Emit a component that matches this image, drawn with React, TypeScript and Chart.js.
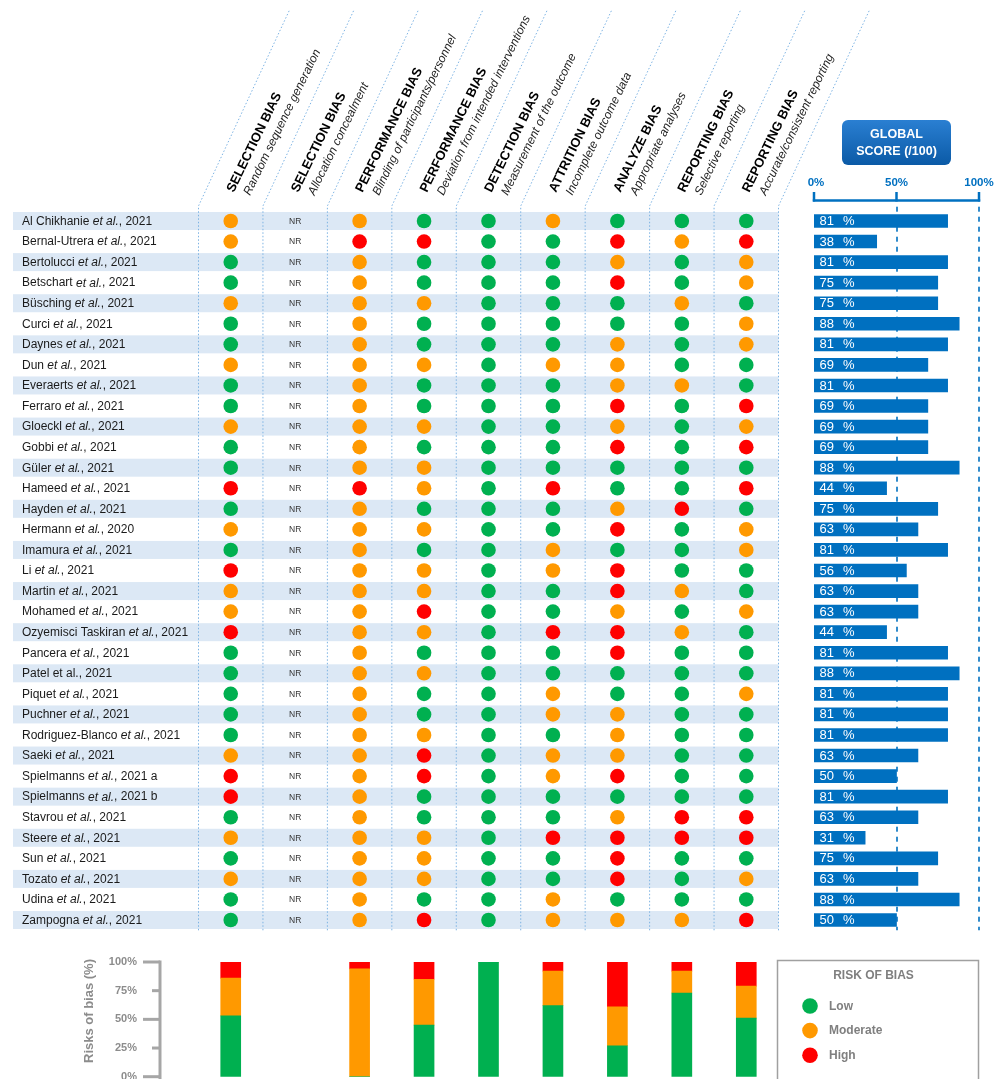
import React, { useEffect, useRef } from "react";
import { Chart, registerables } from "chart.js";

Chart.register(...registerables);

const W = 1004;
const H = 1079;
const FONT = '"Liberation Sans", Arial, Helvetica, sans-serif';

// ---- DATA ----
const studies = [
  "Al Chikhanie *et al.*, 2021",
  "Bernal-Utrera *et al.*, 2021",
  "Bertolucci *et al.*, 2021",
  "Betschart *et al.*, 2021",
  "Büsching *et al.*, 2021",
  "Curci *et al.*, 2021",
  "Daynes *et al.*, 2021",
  "Dun *et al.*, 2021",
  "Everaerts *et al.*, 2021",
  "Ferraro *et al.*, 2021",
  "Gloeckl *et al.*, 2021",
  "Gobbi *et al.*, 2021",
  "Güler *et al.*, 2021",
  "Hameed *et al.*, 2021",
  "Hayden *et al.*, 2021",
  "Hermann *et al.*, 2020",
  "Imamura *et al.*, 2021",
  "Li *et al.*, 2021",
  "Martin *et al.*, 2021",
  "Mohamed *et al.*, 2021",
  "Ozyemisci Taskiran *et al.*, 2021",
  "Pancera *et al.*, 2021",
  "Patel et al., 2021",
  "Piquet *et al.*, 2021",
  "Puchner *et al.*, 2021",
  "Rodriguez-Blanco *et al.*, 2021",
  "Saeki *et al.*, 2021",
  "Spielmanns *et al.*, 2021 a",
  "Spielmanns *et al.*, 2021 b",
  "Stavrou *et al.*, 2021",
  "Steere *et al.*, 2021",
  "Sun *et al.*, 2021",
  "Tozato *et al.*, 2021",
  "Udina *et al.*, 2021",
  "Zampogna *et al.*, 2021",
];

// G = low, O = moderate, R = high, - = not reported (NR)
const ratings = [
  "O-OGGOGGG",
  "O-RRGGROR",
  "G-OGGGOGO",
  "G-OGGGRGO",
  "O-OOGGGOG",
  "G-OGGGGGO",
  "G-OGGGOGO",
  "O-OOGOOGG",
  "G-OGGGOOG",
  "G-OGGGRGR",
  "O-OOGGOGO",
  "G-OGGGRGR",
  "G-OOGGGGG",
  "R-ROGRGGR",
  "G-OGGGORG",
  "O-OOGGRGO",
  "G-OGGOGGO",
  "R-OOGORGG",
  "O-OOGGROG",
  "O-ORGGOGO",
  "R-OOGRROG",
  "G-OGGGRGG",
  "G-OOGGGGG",
  "G-OGGOGGO",
  "G-OGGOOGG",
  "G-OOGGOGG",
  "O-ORGOOGG",
  "R-ORGORGG",
  "R-OGGGGGG",
  "G-OGGGORR",
  "O-OOGRRRR",
  "G-OOGGRGG",
  "O-OOGGRGO",
  "G-OGGOGGG",
  "G-ORGOOOR",
];

const scores = [81, 38, 81, 75, 75, 88, 81, 69, 81, 69, 69, 69, 88, 44, 75, 63, 81, 56, 63, 63, 44, 81, 88, 81, 81, 81, 63, 50, 81, 63, 31, 75, 63, 88, 50];

const domainTitles = [
  "SELECTION BIAS",
  "SELECTION BIAS",
  "PERFORMANCE BIAS",
  "PERFORMANCE BIAS",
  "DETECTION BIAS",
  "ATTRITION BIAS",
  "ANALYZE BIAS",
  "REPORTING BIAS",
  "REPORTING BIAS",
];
const domainSubtitles = [
  "Random sequence generation",
  "Allocation concealment",
  "Blinding of participants/personnel",
  "Deviation from intended interventions",
  "Measurement of the outcome",
  "Incomplete outcome data",
  "Appropriate analyses",
  "Selective reporting",
  "Accurate/consistent reporting",
];

const levelCodes = ["G", "O", "R"];
const levelLabels = ["Low", "Moderate", "High"];
const levelColors = ["#00B050", "#FF9900", "#FF0000"];

// Summary stacked bars (% of studies)
const lowPct = [53, null, 0, 45, 100, 62, 27, 73, 51];
const moderatePct = [33, null, 94, 40, 0, 30, 34, 19, 28];
const highPct = [14, null, 6, 15, 0, 8, 39, 8, 21];

const scoreTicks = [0, 50, 100];
const riskTicks = [0, 25, 50, 75, 100];

const BLUE = "#0070C0";
const BAND = "#dce8f5";
const DOT_LINE = "#7db3e3";

function plain(s: string) {
  return s.split("*").join("");
}

function drawRich(ctx: CanvasRenderingContext2D, text: string, x: number, y: number, size: number) {
  const parts = text.split("*");
  let cx = x;
  parts.forEach((p, idx) => {
    ctx.font = `${idx % 2 ? "italic " : ""}${size}px ${FONT}`;
    ctx.fillText(p, cx, y);
    cx += ctx.measureText(p).width;
  });
}

export default function App() {
  const matrixRef = useRef<HTMLCanvasElement>(null);
  const scoreRef = useRef<HTMLCanvasElement>(null);
  const riskRef = useRef<HTMLCanvasElement>(null);

  useEffect(() => {
    const charts: Chart[] = [];

    // ---------- Matrix of risk-of-bias dots ----------
    const matrixDecor = {
      id: "matrixDecor",
      beforeDatasetsDraw(chart: any) {
        const { ctx, chartArea, scales } = chart;
        const xs = scales.x;
        const ys = scales.y;
        ctx.save();
        // alternating bands
        ctx.fillStyle = BAND;
        studies.forEach((_, i) => {
          if (i % 2 === 0) {
            const y = ys.getPixelForValue(i + 0.5);
            ctx.fillRect(13, y - 9, chartArea.right - 13, 18);
          }
        });
        // dotted column separators (vertical then slanted into header)
        ctx.strokeStyle = DOT_LINE;
        ctx.lineWidth = 1;
        ctx.setLineDash([1.5, 2]);
        for (let k = 0; k <= domainTitles.length; k++) {
          const x = xs.getPixelForValue(k);
          ctx.beginPath();
          ctx.moveTo(x, chartArea.bottom);
          ctx.lineTo(x, 206);
          ctx.lineTo(x + 91, 10);
          ctx.stroke();
        }
        ctx.setLineDash([]);
        // study names
        ctx.fillStyle = "#1a1a1a";
        ctx.textBaseline = "middle";
        ctx.textAlign = "left";
        studies.forEach((s, i) => drawRich(ctx, s, 22, ys.getPixelForValue(i + 0.5) + 0.5, 12));
        // NR labels
        ctx.font = `8.5px ${FONT}`;
        ctx.textAlign = "center";
        ctx.fillStyle = "#333";
        ratings.forEach((r, i) => {
          for (let k = 0; k < r.length; k++) {
            if (r[k] === "-") {
              ctx.fillText("NR", xs.getPixelForValue(k + 0.5), ys.getPixelForValue(i + 0.5) + 0.5);
            }
          }
        });
        // rotated headers
        const ang = (-64 * Math.PI) / 180;
        domainTitles.forEach((t, k) => {
          const cx = xs.getPixelForValue(k + 0.5);
          ctx.save();
          ctx.translate(cx + 3, 193);
          ctx.rotate(ang);
          ctx.textAlign = "left";
          ctx.textBaseline = "alphabetic";
          ctx.fillStyle = "#000";
          ctx.font = `bold 13px ${FONT}`;
          ctx.fillText(t, 0, 0);
          ctx.fillStyle = "#222";
          ctx.font = `italic 12px ${FONT}`;
          ctx.fillText(domainSubtitles[k], 4.5, 16);
          ctx.restore();
        });
        ctx.restore();
      },
    };

    const matrixDatasets = levelCodes.map((code, li) => {
      const pts: { x: number; y: number }[] = [];
      ratings.forEach((r, i) => {
        for (let k = 0; k < r.length; k++) {
          if (r[k] === code) pts.push({ x: k + 0.5, y: i + 0.5 });
        }
      });
      return {
        label: levelLabels[li],
        data: pts,
        backgroundColor: levelColors[li],
        borderWidth: 0,
        pointRadius: 7.3,
        pointHoverRadius: 7.3,
      };
    });

    if (matrixRef.current) {
      charts.push(
        new Chart(matrixRef.current, {
          type: "scatter",
          data: { datasets: matrixDatasets as any },
          options: {
            animation: false,
            responsive: false,
            events: [],
            layout: { padding: { left: 198.5, right: W - 778.5, top: 210.7, bottom: H - 930.3 } },
            plugins: { legend: { display: false }, tooltip: { enabled: false } },
            scales: {
              x: { type: "linear", min: 0, max: domainTitles.length, display: false },
              y: { type: "linear", min: 0, max: studies.length, reverse: true, display: false },
            },
          },
          plugins: [matrixDecor],
        })
      );
    }

    // ---------- Global score bars ----------
    const scoreDecor = {
      id: "scoreDecor",
      beforeDatasetsDraw(chart: any) {
        const { ctx, chartArea, scales } = chart;
        const x = scales.x;
        ctx.save();
        ctx.strokeStyle = BLUE;
        ctx.lineWidth = 1.6;
        ctx.setLineDash([5, 5]);
        [50, 100].forEach((v) => {
          const px = Math.round(x.getPixelForValue(v));
          ctx.beginPath();
          ctx.moveTo(px, chartArea.top - 4);
          ctx.lineTo(px, chartArea.bottom);
          ctx.stroke();
        });
        ctx.setLineDash([]);
        // bracket axis
        ctx.lineWidth = 2.5;
        const x0 = x.getPixelForValue(0);
        const x1 = x.getPixelForValue(100);
        ctx.beginPath();
        ctx.moveTo(x0 - 1.2, 200.5);
        ctx.lineTo(x1 + 1.2, 200.5);
        ctx.stroke();
        scoreTicks.forEach((v) => {
          const px = x.getPixelForValue(v);
          ctx.beginPath();
          ctx.moveTo(px, 192);
          ctx.lineTo(px, 201.5);
          ctx.stroke();
        });
        ctx.fillStyle = BLUE;
        ctx.font = `bold 11.5px ${FONT}`;
        ctx.textAlign = "center";
        ctx.textBaseline = "middle";
        scoreTicks.forEach((v) => {
          ctx.fillText(v + "%", x.getPixelForValue(v) + (v === 0 ? 2 : 0), 183);
        });
        // GLOBAL SCORE box
        const cx = x.getPixelForValue(50);
        const g = ctx.createLinearGradient(0, 120, 0, 165);
        g.addColorStop(0, "#2a7fd2");
        g.addColorStop(1, "#0b5aa6");
        ctx.fillStyle = g;
        ctx.beginPath();
        (ctx as any).roundRect(cx - 54.5, 120, 109, 45, 6);
        ctx.fill();
        ctx.fillStyle = "#fff";
        ctx.font = `bold 12.5px ${FONT}`;
        ctx.fillText("GLOBAL", cx, 135);
        ctx.fillText("SCORE (/100)", cx, 152);
        ctx.restore();
      },
      afterDatasetsDraw(chart: any) {
        const { ctx } = chart;
        const meta = chart.getDatasetMeta(0);
        ctx.save();
        ctx.fillStyle = "#fff";
        ctx.font = `13px ${FONT}`;
        ctx.textAlign = "left";
        ctx.textBaseline = "middle";
        meta.data.forEach((bar: any, i: number) => {
          const p = bar.getProps(["base", "y"], true);
          ctx.fillText(String(scores[i]), p.base + 5.5, p.y + 0.5);
          ctx.fillText("%", p.base + 29, p.y + 0.5);
        });
        ctx.restore();
      },
    };

    if (scoreRef.current) {
      charts.push(
        new Chart(scoreRef.current, {
          type: "bar",
          data: {
            labels: studies.map(plain),
            datasets: [
              {
                label: "Global score",
                data: scores,
                backgroundColor: BLUE,
                borderWidth: 0,
                barThickness: 13,
              },
            ],
          },
          options: {
            indexAxis: "y",
            animation: false,
            responsive: false,
            events: [],
            layout: { padding: { left: 814, right: W - 979, top: 210.7, bottom: H - 930.3 } },
            plugins: { legend: { display: false }, tooltip: { enabled: false } },
            scales: {
              x: { type: "linear", min: 0, max: 100, display: false },
              y: { type: "category", display: false },
            },
          },
          plugins: [scoreDecor],
        })
      );
    }

    // ---------- Summary stacked bars ----------
    const riskDecor = {
      id: "riskDecor",
      afterDraw(chart: any) {
        const { ctx, chartArea, scales } = chart;
        const y = scales.y;
        const ax = chartArea.left - 38.5;
        ctx.save();
        ctx.strokeStyle = "#a6a6a6";
        ctx.lineWidth = 3;
        ctx.beginPath();
        ctx.moveTo(ax, y.getPixelForValue(100) - 1.5);
        ctx.lineTo(ax, H);
        ctx.stroke();
        riskTicks.forEach((v) => {
          const py = y.getPixelForValue(v);
          const len = v % 50 === 0 ? 17 : 8;
          ctx.beginPath();
          ctx.moveTo(ax - len, py);
          ctx.lineTo(ax, py);
          ctx.stroke();
        });
        ctx.fillStyle = "#8c8c8c";
        ctx.font = `bold 11px ${FONT}`;
        ctx.textAlign = "right";
        ctx.textBaseline = "middle";
        riskTicks.forEach((v) => {
          ctx.fillText(v + "%", ax - 23, y.getPixelForValue(v));
        });
        // axis title
        ctx.save();
        ctx.translate(89, 1011);
        ctx.rotate(-Math.PI / 2);
        ctx.textAlign = "center";
        ctx.font = `bold 13px ${FONT}`;
        ctx.fillText("Risks of bias (%)", 0, 0);
        ctx.restore();
        // legend
        ctx.strokeStyle = "#a0a0a0";
        ctx.lineWidth = 1.5;
        ctx.strokeRect(777.5, 960.5, 201, 140);
        ctx.fillStyle = "#7f7f7f";
        ctx.textAlign = "center";
        ctx.font = `bold 12px ${FONT}`;
        ctx.fillText("RISK OF BIAS", 873.5, 976);
        chart.data.datasets.forEach((ds: any, j: number) => {
          const cy = 1006 + 24.6 * j;
          ctx.fillStyle = ds.backgroundColor;
          ctx.beginPath();
          ctx.arc(810, cy, 7.8, 0, Math.PI * 2);
          ctx.fill();
          ctx.fillStyle = "#7f7f7f";
          ctx.textAlign = "left";
          ctx.font = `bold 12px ${FONT}`;
          ctx.fillText(ds.label, 829, cy + 0.5);
        });
        ctx.restore();
      },
    };

    if (riskRef.current) {
      const series = [lowPct, moderatePct, highPct];
      charts.push(
        new Chart(riskRef.current, {
          type: "bar",
          data: {
            labels: domainSubtitles,
            datasets: series.map((d, j) => ({
              label: levelLabels[j],
              data: d,
              backgroundColor: levelColors[j],
              borderWidth: 0,
              barThickness: 20,
            })) as any,
          },
          options: {
            animation: false,
            responsive: false,
            events: [],
            layout: { padding: { left: 198.5, right: W - 778.5, top: 962, bottom: H - 1076.7 } },
            plugins: { legend: { display: false }, tooltip: { enabled: false } },
            scales: {
              x: { type: "category", stacked: true, display: false },
              y: { type: "linear", stacked: true, min: 0, max: 100, display: false },
            },
          },
          plugins: [riskDecor],
        })
      );
    }

    return () => charts.forEach((c) => c.destroy());
  }, []);

  const cs: React.CSSProperties = { position: "absolute", left: 0, top: 0, width: W, height: H };
  return (
    <div style={{ position: "absolute", left: 0, top: 0, width: W, height: H, background: "#fff", overflow: "hidden" }}>
      <canvas ref={matrixRef} width={W} height={H} style={cs} />
      <canvas ref={scoreRef} width={W} height={H} style={cs} />
      <canvas ref={riskRef} width={W} height={H} style={cs} />
    </div>
  );
}
